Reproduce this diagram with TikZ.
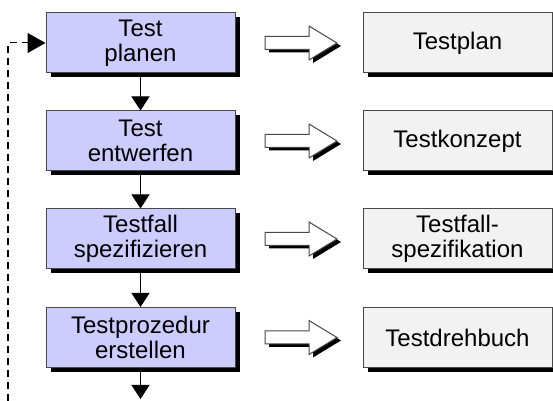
\documentclass[tikz,border=0pt]{standalone}
\usepackage{fontspec}
\setmainfont{Liberation Sans}
\usetikzlibrary{arrows.meta,shadows}

\definecolor{stepfill}{HTML}{CCCCFF}
\definecolor{docfill}{HTML}{F2F2F2}
\definecolor{rimgray}{HTML}{484848}

\begin{document}
\begin{tikzpicture}[x=0.5pt, y=-0.5pt,
	box/.style={draw=rimgray, line width=0.5pt, minimum width=94.5pt, minimum height=30pt, inner sep=0pt, align=center, font=\fontsize{12}{12.5}\selectfont, drop shadow={shadow xshift=2.25pt, shadow yshift=-2.25pt, opacity=1, fill=black}},
	activity/.style={box, fill=stepfill},
	product/.style={box, fill=docfill},
	flow/.style={draw=black, line width=0.5pt, -{Triangle[length=7pt, width=9pt]}},
	loopback/.style={draw=black, line width=0.5pt, dash pattern=on 3.5pt off 2.5pt, -{Triangle[length=9pt, width=10pt]}},
	result/.style={draw=rimgray, line width=0.5pt, fill=white, drop shadow={shadow xshift=2pt, shadow yshift=-1.5pt, opacity=1, fill=black}}]
				\useasboundingbox (0,0) rectangle (553,401);
				
				\node[activity] (plan) at (140.5,43){Test\\planen};
				\node[activity] (entwurf) at (140.5,141){Test\\entwerfen};
				\node[activity] (spez) at (140.5,239){Testfall\\spezifizieren};
				\node[activity] (proz) at (140.5,337.5){Testprozedur\\erstellen};
				
				\node[product] (testplan) at (457.5,43){Testplan};
				\node[product] (konzept) at (457.5,141){Testkonzept};
				\node[product] (spezifikation) at (457.5,239){Testfall-\\spezifikation};
				\node[product] (drehbuch) at (457.5,337.5){Testdrehbuch};
				
				\coordinate (weiter) at (140.5,399);
				\coordinate (zurueck) at (8,401);
				
				\path[flow] (plan) edge (entwurf);
				\path[flow] (entwurf) edge (spez);
				\path[flow] (spez) edge (proz);
				\path[flow] (proz) edge (weiter);
				\draw[loopback] (zurueck) |- (plan.west);
				
				% hollow block arrows from activity to its product
				\path[result] (265,36.5) -- (309,36.5) -- (309,26) -- (337,43) -- (309,60) -- (309,49.5) -- (265,49.5) -- cycle;
				\path[result] (265,134.5) -- (309,134.5) -- (309,124) -- (337,141) -- (309,158) -- (309,147.5) -- (265,147.5) -- cycle;
				\path[result] (265,232.5) -- (309,232.5) -- (309,222) -- (337,239) -- (309,256) -- (309,245.5) -- (265,245.5) -- cycle;
				\path[result] (265,331) -- (309,331) -- (309,320.5) -- (337,337.5) -- (309,354.5) -- (309,344) -- (265,344) -- cycle;
\end{tikzpicture}
\end{document}
